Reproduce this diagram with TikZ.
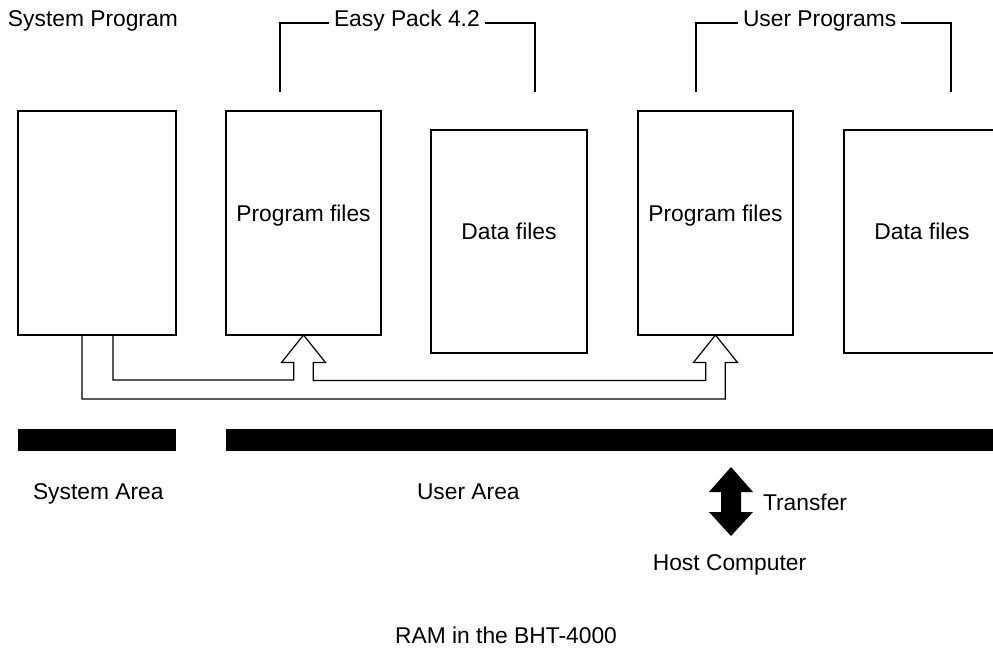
\documentclass[tikz,border=0pt]{standalone}
\usepackage{fontspec}
\setmainfont{Liberation Sans}
\usetikzlibrary{calc}
\begin{document}
\begin{tikzpicture}[x=1pt,y=-1pt,
  lbl/.style={font=\fontsize{22.8}{26}\selectfont, inner sep=0pt, outer sep=0pt},
  filebox/.style={draw, line width=1.2pt, inner sep=0pt, outer sep=0pt},
  bar/.style={fill=black, inner sep=0pt, outer sep=0pt, minimum height=22pt},
  thin/.style={line width=1.2pt},
  conn/.style={line width=1.2pt, line join=miter}]
\useasboundingbox (0,0) rectangle (993,648);
\begin{scope}
\clip (0,0) rectangle (993,648);

% memory blocks
\node[filebox, minimum width=158pt, minimum height=224pt] (sys) at (97,223) {};
\node[filebox, minimum width=155pt, minimum height=224pt] (pf1) at (303.5,223) {};
\node[filebox, minimum width=156pt, minimum height=223pt] (df1) at (509,241.5) {};
\node[filebox, minimum width=155pt, minimum height=224pt] (pf2) at (715.5,223) {};
\node[filebox, minimum width=156pt, minimum height=223pt] (df2) at (922,241.5) {};

% block captions
\node[lbl, anchor=base] (pf1t) at (303.5,221) {Program files};
\node[lbl, anchor=base] (df1t) at (509,239) {Data files};
\node[lbl, anchor=base] (pf2t) at (715.5,221) {Program files};
\node[lbl, anchor=base] (df2t) at (922,239) {Data files};

% load paths from the system area into the program areas
\coordinate (ox) at (82,399);
\coordinate (ix) at (113,380);
\draw[conn] (sys.south -| ox) -- (ox)
  -| ($(pf2.south)+(9.75,27.5)$) -- ++(12.25,0) -- (pf2.south)
  -- ++(-22,27.5) -- ++(12.25,0)
  |- ($(pf1.south)+(9.75,45.5)$) -- ++(0,-18) -- ++(12.25,0) -- (pf1.south)
  -- ++(-22,27.5) -- ++(12.25,0)
  |- (ix) -- (sys.south -| ix);

% memory bars
\node[bar, minimum width=158pt] (sysbar) at (97,440) {};
\node[bar, minimum width=774pt] (userbar) at (613,440) {};
\end{scope}

% headings
\node[lbl, anchor=base west] (sysprog) at (8,26) {System Program};
\node[lbl, anchor=base west, inner xsep=5pt] (easy) at (329,26) {Easy Pack 4.2};
\node[lbl, anchor=base west, inner xsep=5pt] (userp) at (738,26) {User Programs};

% group brackets
\coordinate (ea) at (280,23);
\coordinate (eb) at (535,23);
\draw[thin] ($(ea)+(0,69)$) -- (ea) -- (ea -| easy.west);
\draw[thin] (eb -| easy.east) -- (eb) -- ++(0,69);
\coordinate (ua) at (696,23);
\coordinate (ub) at (951,23);
\draw[thin] ($(ua)+(0,69)$) -- (ua) -- (ua -| userp.west);
\draw[thin] (ub -| userp.east) -- (ub) -- ++(0,69);

% area labels
\node[lbl, anchor=base west] (sysarea) at (33,499) {System Area};
\node[lbl, anchor=base west] (userarea) at (417,499) {User Area};

% transfer to the host
\coordinate (xf) at (731,501.5);
\fill (xf) ++(0,-34.5) -- ++(22,25) -- ++(-12,0) -- ++(0,20) -- ++(12,0)
  -- ++(-22,24) -- ++(-22,-24) -- ++(12,0) -- ++(0,-20) -- ++(-12,0) -- cycle;
\node[lbl, anchor=base west] (transfer) at (763,510) {Transfer};
\node[lbl, anchor=base] (host) at (729.5,570) {Host Computer};

\node[lbl, anchor=base] (ram) at (506,643) {RAM in the BHT-4000};
\end{tikzpicture}
\end{document}
